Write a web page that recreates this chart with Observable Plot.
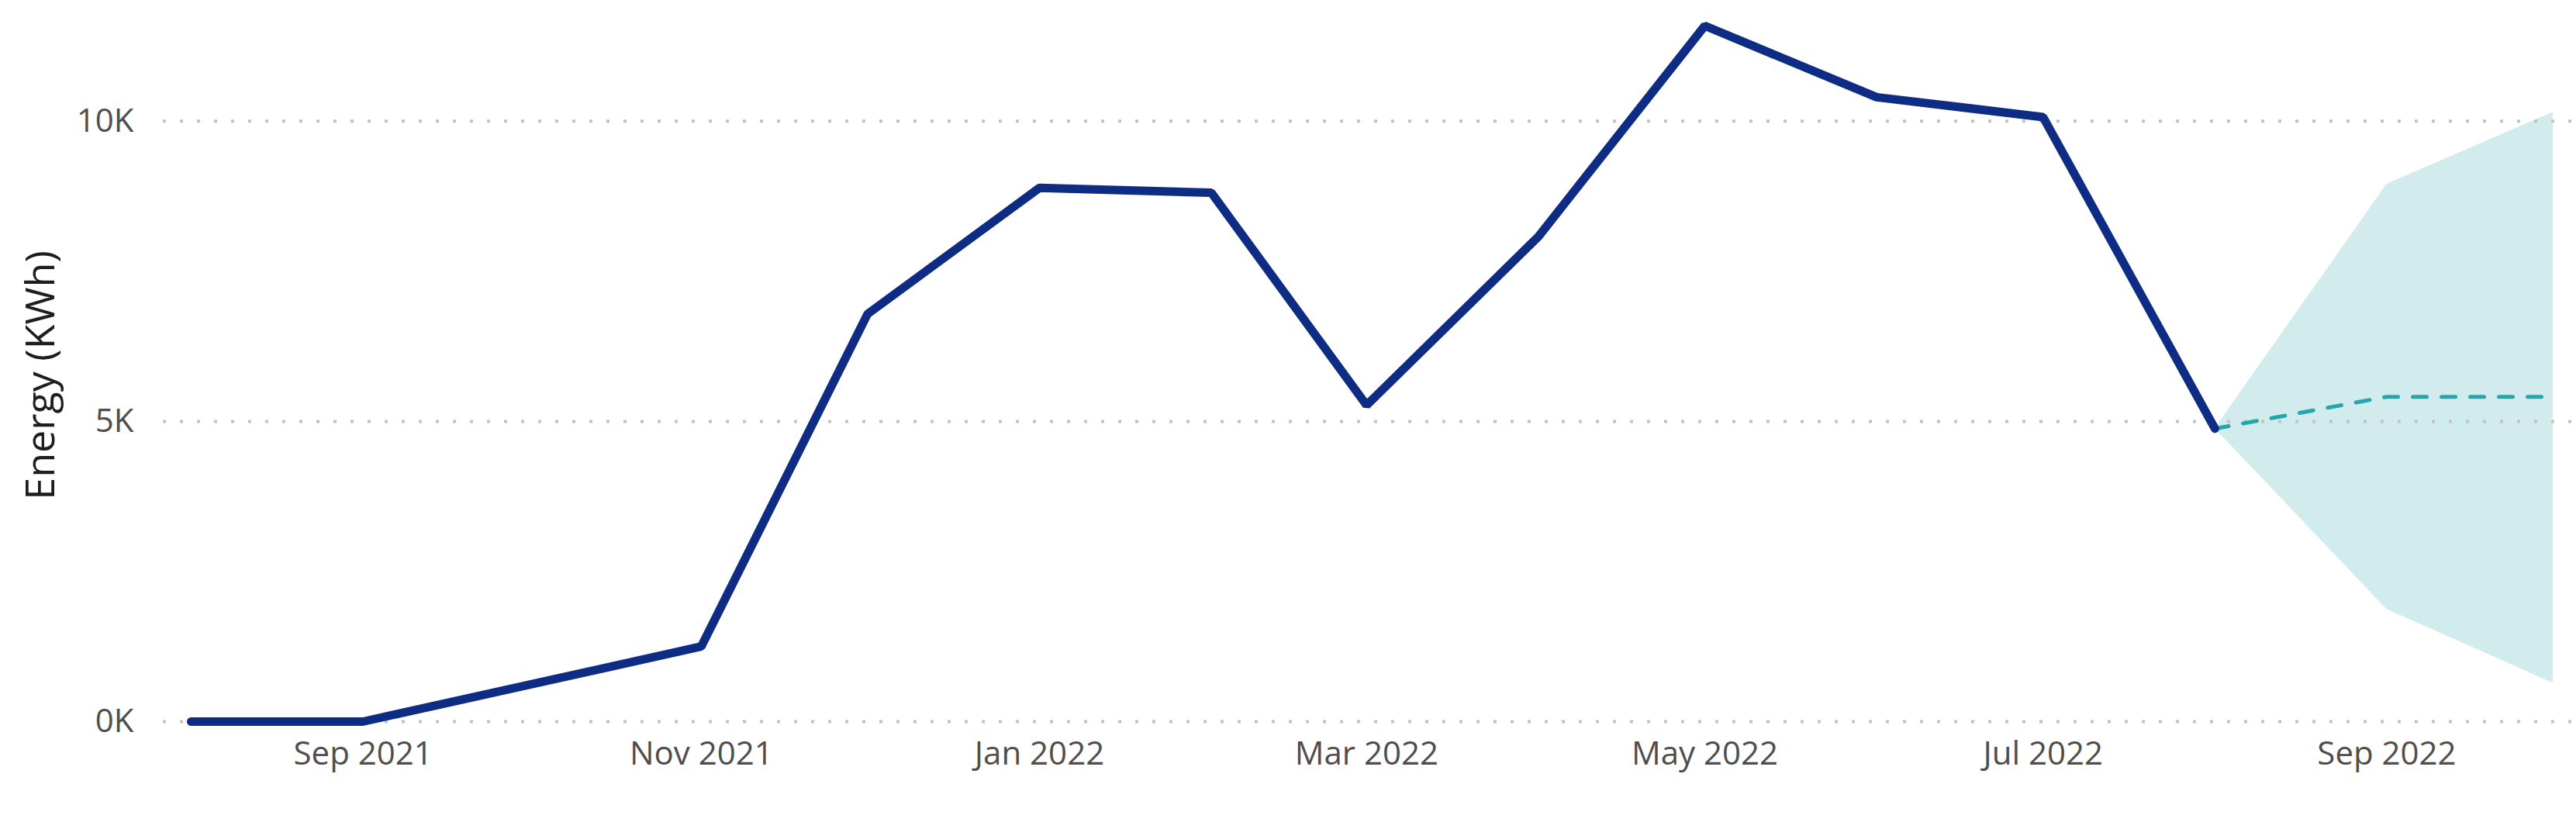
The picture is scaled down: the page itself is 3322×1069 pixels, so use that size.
<!DOCTYPE html>
<html>
<head>
<meta charset="utf-8">
<script src="https://cdn.jsdelivr.net/npm/d3@7"></script>
<script src="https://cdn.jsdelivr.net/npm/@observablehq/plot@0.6"></script>
<style>
  body { margin: 0; background: #fff; }
</style>
</head>
<body>
<div id="grafico"></div>
<script>
// datos reales (kWh por mes)
const meses = ["2021-08-01", "2021-09-01", "2021-11-01", "2021-12-01", "2022-01-01", "2022-02-01",
               "2022-03-01", "2022-04-01", "2022-05-01", "2022-06-01", "2022-07-01", "2022-08-01"];
const energia = [0, 0, 1250, 6790, 8890, 8810, 5270, 8080, 11590, 10400, 10070, 4880];

// pronostico con banda de confianza
const mesesPron = ["2022-08-01", "2022-09-01", "2022-10-01"];
const pronostico = [4880, 5410, 5410];
const superior = [4880, 8950, 10150];
const inferior = [4880, 1870, 640];

const ticksX = ["2021-09-01", "2021-11-01", "2022-01-01", "2022-03-01", "2022-05-01", "2022-07-01", "2022-09-01"];
const ticksY = [0, 5000, 10000];
const tituloY = "Energy (KWh)";

const serie = meses.map((m, i) => ({fecha: new Date(m), valor: energia[i]}));
const pron = mesesPron.map((m, i) => ({fecha: new Date(m), valor: pronostico[i], alto: superior[i], bajo: inferior[i]}));

const fuente = "'Segoe UI', 'Open Sans', sans-serif";

const plot = Plot.plot({
  width: 3322,
  height: 1069,
  marginTop: 1,
  marginRight: 30,
  marginBottom: 139,
  marginLeft: 246,
  style: {fontFamily: fuente, fontSize: "42px", color: "#504e4c", background: "#fff"},
  x: {type: "utc", domain: [new Date("2021-08-01"), new Date("2022-10-01")]},
  y: {domain: [0, 12000]},
  marks: [
    Plot.areaY(pron, {x: "fecha", y1: "bajo", y2: "alto", fill: "#d2eced"}),
    Plot.ruleY(ticksY, {stroke: "#c2c2c2", strokeWidth: 4, strokeDasharray: "4,18", insetLeft: -36, insetRight: -30}),
    Plot.axisY({ticks: ticksY, tickSize: 0, tickPadding: 74, tickFormat: d => d / 1000 + "K", label: null}),
    Plot.axisX({ticks: ticksX.map(d => new Date(d)), tickSize: 0, tickPadding: 26, tickFormat: d3.utcFormat("%b %Y"), label: null}),
    Plot.line(pron, {x: "fecha", y: "valor", stroke: "#23a6ad", strokeWidth: 5, strokeDasharray: "18,19"}),
    Plot.line(serie, {x: "fecha", y: "valor", stroke: "#0e2c84", strokeWidth: 11, strokeLinejoin: "miter", strokeLinecap: "round"}),
    Plot.text([tituloY], {frameAnchor: "left", textAnchor: "middle", rotate: -90, dx: -193, dy: 18, fontSize: 52, fill: "#1f1e1d"})
  ]
});

document.querySelector("#grafico").appendChild(plot);
</script>
</body>
</html>
